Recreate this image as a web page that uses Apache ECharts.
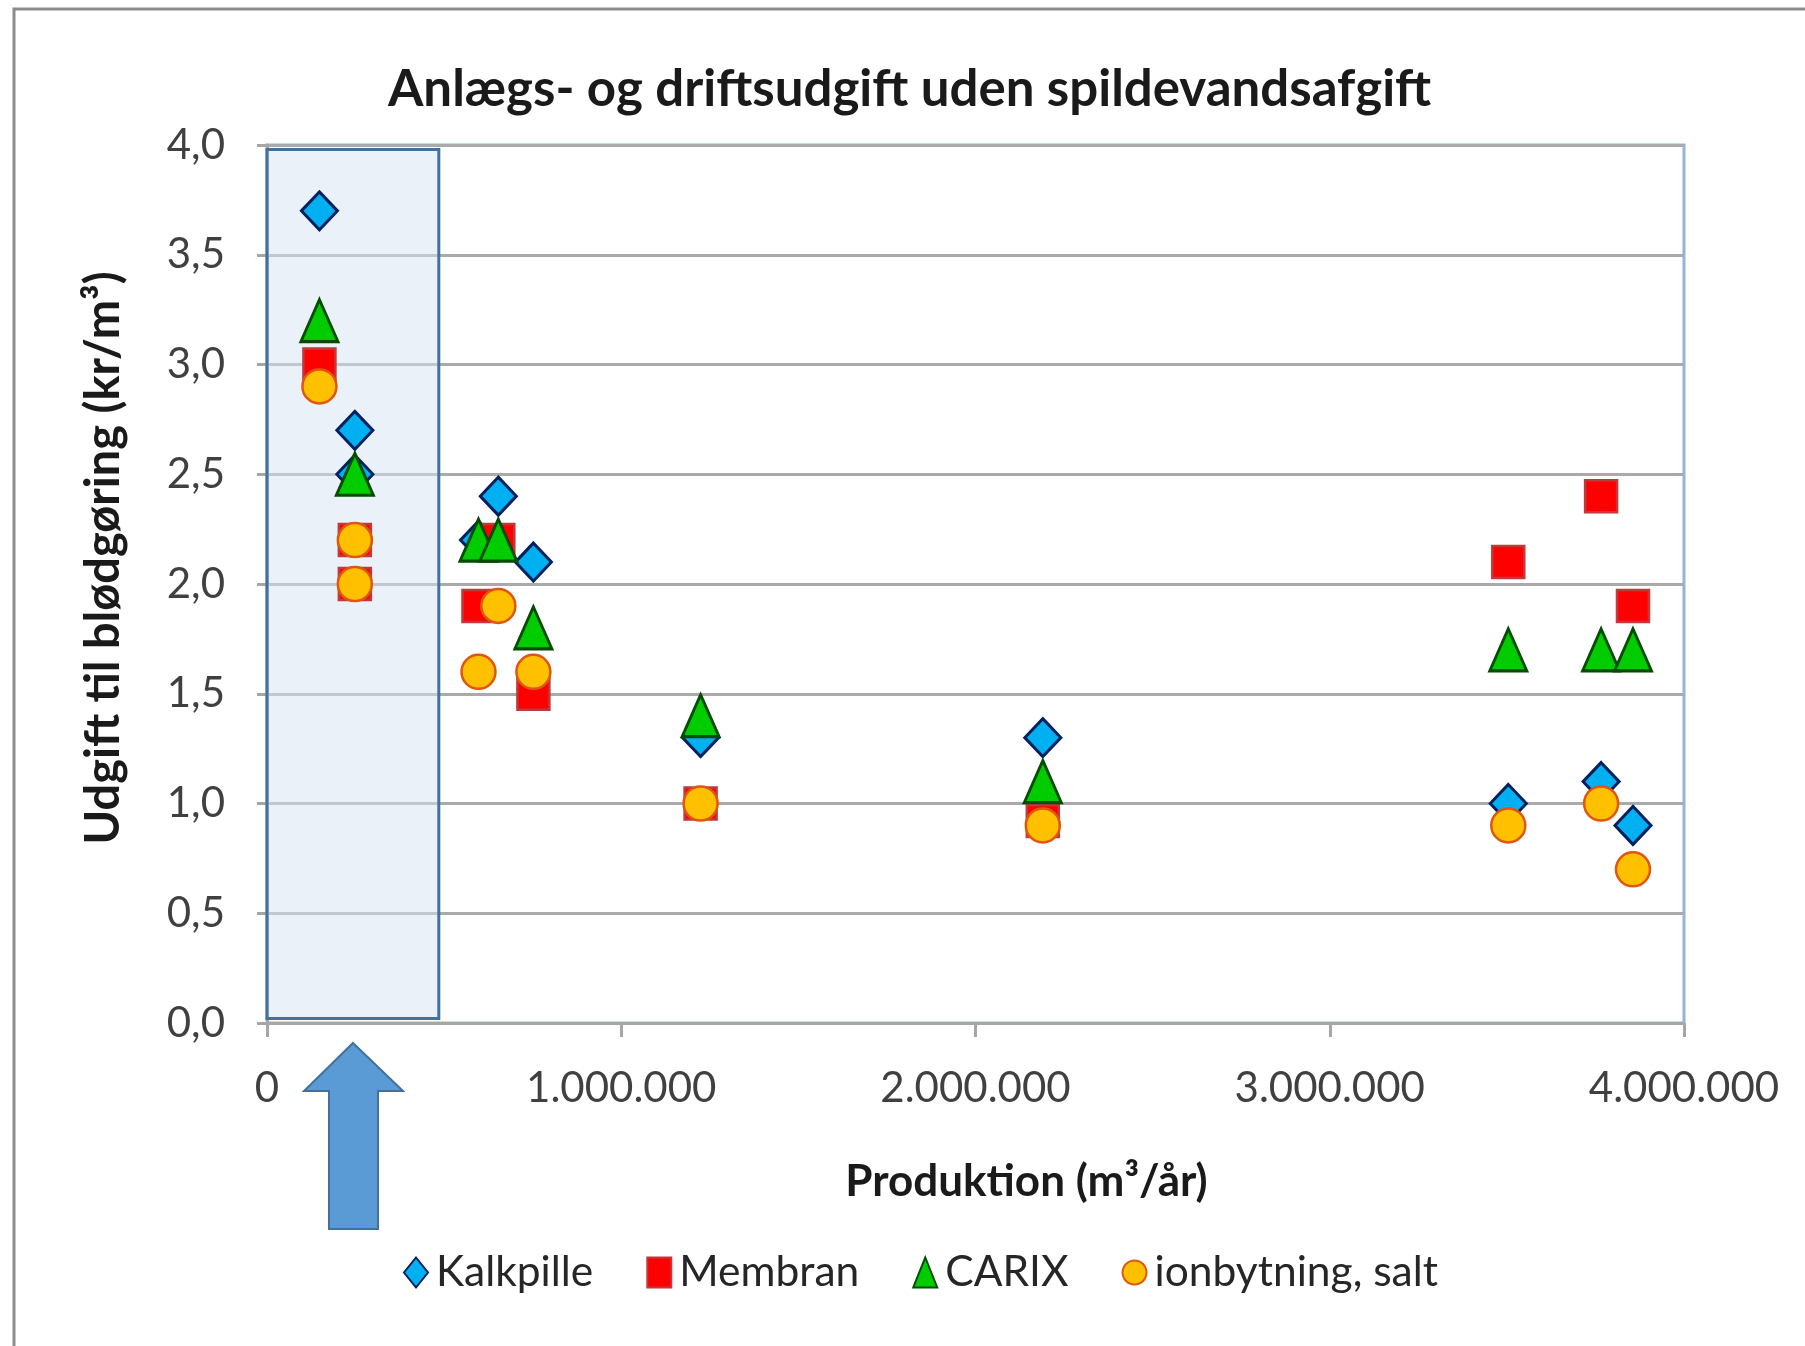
<!DOCTYPE html>
<html>
<head>
<meta charset="utf-8">
<script src="https://cdn.jsdelivr.net/npm/echarts@6/dist/echarts.min.js"></script>
<style>
  html, body { margin: 0; padding: 0; background: #fff; }
  #chart { width: 1805px; height: 1346px; }
</style>
</head>
<body>
<div id="chart"></div>
<script>
// data (produktion m3/år, udgift kr/m3)
const kalkpilleProd = [148000, 248000, 248000, 597000, 653000, 752000, 1224000, 2190000, 3504000, 3766000, 3856000];
const kalkpilleCost = [3.7, 2.7, 2.5, 2.2, 2.4, 2.1, 1.3, 1.3, 1.0, 1.1, 0.9];

const membranProd = [148000, 248000, 248000, 597000, 653000, 752000, 1224000, 2190000, 3504000, 3766000, 3856000];
const membranCost = [3.0, 2.2, 2.0, 1.9, 2.2, 1.5, 1.0, 0.92, 2.1, 2.4, 1.9];

const carixProd = [148000, 248000, 597000, 653000, 752000, 1224000, 2190000, 3504000, 3766000, 3856000];
const carixCost = [3.2, 2.5, 2.2, 2.2, 1.8, 1.4, 1.1, 1.7, 1.7, 1.7];

const ionProd = [148000, 248000, 248000, 597000, 653000, 752000, 1224000, 2190000, 3504000, 3766000, 3856000];
const ionCost = [2.9, 2.2, 2.0, 1.6, 1.9, 1.6, 1.0, 0.9, 0.9, 1.0, 0.7];

// highlighted range (small plants)
const highlightProd = [0, 485000];
const highlightCost = [0.02, 3.98];

const seriesNames = ["Kalkpille", "Membran", "CARIX", "ionbytning, salt"];

const xTicks = { min: 0, max: 4000000, interval: 1000000 };
const yTicks = { min: 0, max: 4, interval: 0.5 };

const FONT = "Lato";

const pairs = (xs, ys) => xs.map((x, i) => [x, ys[i]]);

const fmtThousands = (v) => String(v).replace(/\B(?=(\d{3})+(?!\d))/g, ".");

const chart = echarts.init(document.getElementById("chart"));

const option = {
  backgroundColor: "#ffffff",
  animation: false,
  textStyle: { fontFamily: FONT },
  title: {
    text: "Anlægs- og driftsudgift uden spildevandsafgift",
    left: 388,
    top: 64,
    padding: 0,
    textStyle: { fontFamily: FONT, fontSize: 51, fontWeight: "bold", color: "#1a1a1a" },
  },
  legend: {
    data: seriesNames,
    left: 398,
    top: 1246,
    itemGap: 53,
    itemWidth: 24,
    itemHeight: 30,
    textStyle: { fontFamily: FONT, fontSize: 42.5, color: "#262626", padding: [0, 0, 0, 3] },
  },
  grid: {
    left: 267,
    right: 121,
    top: 145,
    bottom: 323,
    show: true,
    borderColor: "#95B3D7",
    borderWidth: 3,
    backgroundColor: "transparent",
  },
  xAxis: {
    type: "value",
    min: xTicks.min,
    max: xTicks.max,
    interval: xTicks.interval,
    name: "Produktion (m³/år)",
    nameLocation: "middle",
    nameGap: 137,
    nameTextStyle: { fontFamily: FONT, fontSize: 44, fontWeight: "bold", color: "#1a1a1a", padding: [0, 0, 0, 102] },
    axisLine: { show: true, lineStyle: { color: "#A6A6A6", width: 3 } },
    axisTick: { show: true, length: 14, lineStyle: { color: "#A6A6A6", width: 3 } },
    splitLine: { show: false },
    axisLabel: {
      margin: 44,
      fontFamily: FONT,
      fontSize: 42,
      color: "#404040",
      formatter: (v) => fmtThousands(v),
    },
  },
  yAxis: {
    type: "value",
    min: yTicks.min,
    max: yTicks.max,
    interval: yTicks.interval,
    name: "Udgift til blødgøring (kr/m³)",
    nameLocation: "middle",
    nameGap: 140,
    nameRotate: 90,
    nameTextStyle: { fontFamily: FONT, fontSize: 47, fontWeight: "bold", color: "#1a1a1a", padding: [0, 0, 0, 52] },
    axisLine: { show: true, lineStyle: { color: "#A6A6A6", width: 3 } },
    axisTick: { show: true, length: 10, lineStyle: { color: "#A6A6A6", width: 3 } },
    splitLine: { show: true, lineStyle: { color: "#AAAAAA", width: 3 } },
    axisLabel: {
      margin: 42,
      fontFamily: FONT,
      fontSize: 42,
      color: "#404040",
      formatter: (v) => v.toFixed(1).replace(".", ","),
    },
  },
  graphic: [
    // outer chart frame
    {
      type: "rect",
      shape: { x: 14, y: 9, width: 1900, height: 1500 },
      style: { fill: null, stroke: "#8C8C8C", lineWidth: 3 },
      silent: true,
    },
    // blue arrow under the highlighted range
    {
      type: "polygon",
      shape: {
        points: [
          [353, 1043], [403, 1091], [378, 1091], [378, 1229],
          [329, 1229], [329, 1091], [304, 1091],
        ],
      },
      style: { fill: "#5B9BD5", stroke: "#41719C", lineWidth: 2 },
      silent: true,
    },
  ],
  series: [
    {
      name: "highlight",
      type: "scatter",
      data: [],
      silent: true,
      markArea: {
        silent: true,
        itemStyle: { color: "rgba(214, 228, 244, 0.5)", borderColor: "#41719C", borderWidth: 3 },
        data: [[
          { coord: [highlightProd[0], highlightCost[0]] },
          { coord: [highlightProd[1], highlightCost[1]] },
        ]],
      },
    },
    {
      name: seriesNames[0],
      type: "scatter",
      symbol: "diamond",
      symbolSize: [36, 38],
      data: pairs(kalkpilleProd, kalkpilleCost),
      itemStyle: { color: "#00B0F0", borderColor: "#002060", borderWidth: 3, opacity: 1 },
    },
    {
      name: seriesNames[1],
      type: "scatter",
      symbol: "rect",
      symbolSize: 32,
      data: pairs(membranProd, membranCost),
      itemStyle: { color: "#FF0000", borderColor: "#C0393B", borderWidth: 2.5, opacity: 1 },
    },
    {
      name: seriesNames[2],
      type: "scatter",
      symbol: "triangle",
      symbolSize: [37, 42],
      data: pairs(carixProd, carixCost),
      itemStyle: { color: "#00CC00", borderColor: "#004D00", borderWidth: 3, opacity: 1 },
    },
    {
      name: seriesNames[3],
      type: "scatter",
      symbol: "circle",
      symbolSize: 34,
      data: pairs(ionProd, ionCost),
      itemStyle: { color: "#FFC000", borderColor: "#E0560F", borderWidth: 2.5, opacity: 1 },
    },
  ],
};

chart.setOption(option);
</script>
</body>
</html>
